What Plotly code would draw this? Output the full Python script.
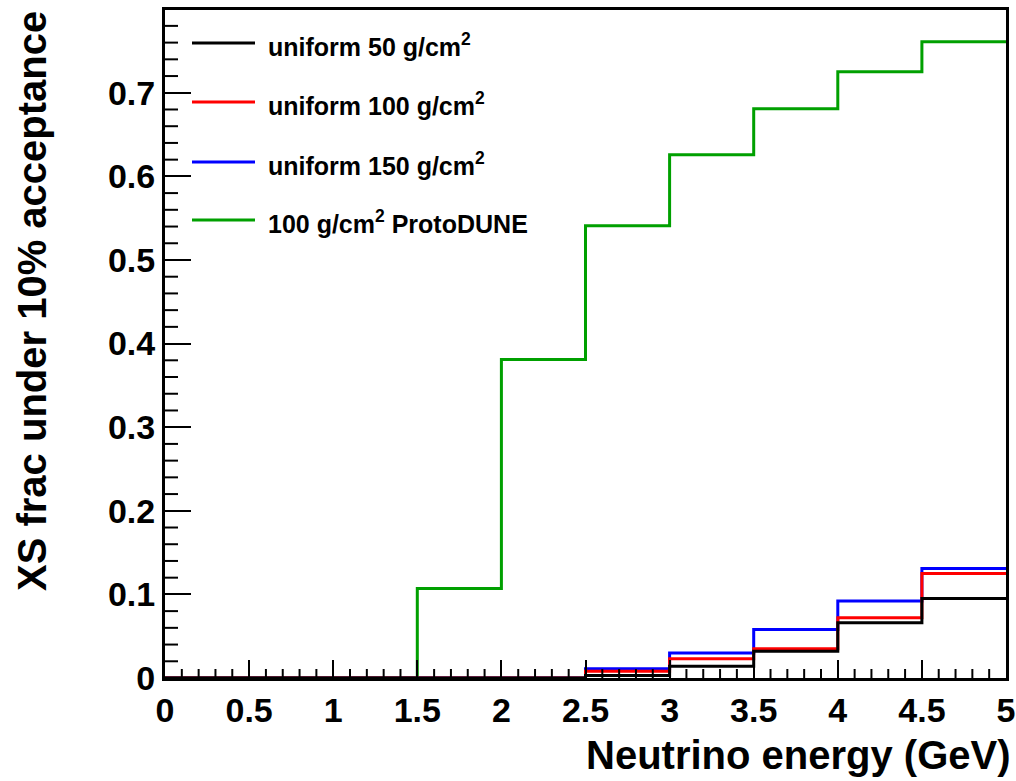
import plotly.graph_objects as go

bin_edges = [0, 0.5, 1, 1.5, 2, 2.5, 3, 3.5, 4, 4.5, 5]
uniform50 = [0, 0, 0, 0, 0, 0.003, 0.014, 0.032, 0.066, 0.095]
uniform100 = [0, 0, 0, 0, 0, 0.008, 0.023, 0.035, 0.072, 0.125]
uniform150 = [0, 0, 0, 0, 0, 0.011, 0.030, 0.058, 0.092, 0.131]
protodune = [0, 0, 0, 0.107, 0.381, 0.541, 0.626, 0.681, 0.725, 0.761]

x_tickvals = [0, 0.5, 1, 1.5, 2, 2.5, 3, 3.5, 4, 4.5, 5]
x_ticktext = ["0", "0.5", "1", "1.5", "2", "2.5", "3", "3.5", "4", "4.5", "5"]
y_tickvals = [0, 0.1, 0.2, 0.3, 0.4, 0.5, 0.6, 0.7]
y_ticktext = ["0", "0.1", "0.2", "0.3", "0.4", "0.5", "0.6", "0.7"]
x_minor_per_major = 5
y_minor_per_major = 5

X_RANGE = [0, 5]
Y_RANGE = [0, 0.799]

series = [
    ("100 g/cm<sup>2</sup> ProtoDUNE", protodune, "#00a000"),
    ("uniform 150 g/cm<sup>2</sup>", uniform150, "#0000ff"),
    ("uniform 100 g/cm<sup>2</sup>", uniform100, "#ff0000"),
    ("uniform 50 g/cm<sup>2</sup>", uniform50, "#000000"),
]
legend_order = [3, 2, 1, 0]

W, H = 1016, 781
ML, MR, MT, MB = 165, 10, 10, 103
FONT = "Liberation Sans, Arial, Helvetica, sans-serif"

fig = go.Figure()
for name, vals, col in series:
    fig.add_trace(go.Scatter(
        x=bin_edges, y=vals + [vals[-1]], mode="lines",
        line=dict(shape="hv", color=col, width=3),
        name=name, showlegend=False, hoverinfo="skip"))

pw = W - ML - MR
ph = H - MT - MB

def px2paper_x(px):
    return (px - ML) / pw

def px2paper_y(py):
    return (H - MB - py) / ph

shapes = []
annotations = []

# minor ticks (inside), placed between the major tick values
X_MINOR_LEN, Y_MINOR_LEN = 9, 13
for a, b in zip(x_tickvals[:-1], x_tickvals[1:]):
    for k in range(1, x_minor_per_major):
        v = a + (b - a) * k / x_minor_per_major
        shapes.append(dict(type="line", xref="x", yref="paper", x0=v, x1=v,
                           y0=0, y1=X_MINOR_LEN / ph, line=dict(color="black", width=2)))
y_major_step = y_tickvals[1] - y_tickvals[0]
y_minor_vals = []
cur = 0.0
idx_m = 0
while True:
    v = idx_m * y_major_step / y_minor_per_major
    if v > Y_RANGE[1]:
        break
    if idx_m % y_minor_per_major != 0:
        y_minor_vals.append(v)
    idx_m += 1
for v in y_minor_vals:
    shapes.append(dict(type="line", xref="paper", yref="y", x0=0, x1=Y_MINOR_LEN / pw,
                       y0=v, y1=v, line=dict(color="black", width=2)))

leg_y = [43, 102, 162, 220]
for i, idx in enumerate(legend_order):
    name, vals, col = series[idx]
    y = px2paper_y(leg_y[i])
    shapes.append(dict(type="line", xref="paper", yref="paper",
                       x0=px2paper_x(192), x1=px2paper_x(255), y0=y, y1=y,
                       line=dict(color=col, width=3)))
    annotations.append(dict(xref="paper", yref="paper", x=px2paper_x(266), y=px2paper_y(leg_y[i] + 2),
                            xanchor="left", yanchor="middle", showarrow=False,
                            text="<b>%s</b>" % name,
                            font=dict(family=FONT, size=25, color="black")))

annotations.append(dict(xref="paper", yref="paper", x=px2paper_x(1013), y=px2paper_y(755),
                        xanchor="right", yanchor="middle", showarrow=False,
                        text="<b>Neutrino energy (GeV)</b>",
                        font=dict(family=FONT, size=40, color="black")))
annotations.append(dict(xref="paper", yref="paper", x=px2paper_x(32), y=px2paper_y(301),
                        xanchor="center", yanchor="middle", showarrow=False, textangle=-90,
                        text="<b>XS frac under 10% acceptance</b>",
                        font=dict(family=FONT, size=40, color="black")))

tickfont = dict(family=FONT, size=34, color="black", weight="bold")

fig.update_layout(
    width=W, height=H,
    margin=dict(l=ML, r=MR, t=MT, b=MB),
    paper_bgcolor="white", plot_bgcolor="white",
    showlegend=False,
    shapes=shapes, annotations=annotations,
    font=dict(family=FONT, color="black"),
    xaxis=dict(range=X_RANGE, showgrid=False, zeroline=False, automargin=False,
               showline=True, linecolor="black", linewidth=3, mirror=True,
               ticks="inside", ticklen=18, tickwidth=2, tickcolor="black",
               tickmode="array", tickvals=x_tickvals, ticktext=x_ticktext, tickangle=0,
               tickfont=tickfont),
    yaxis=dict(range=Y_RANGE, showgrid=False, zeroline=False, automargin=False,
               showline=True, linecolor="black", linewidth=3, mirror=True,
               ticks="inside", ticklen=26, tickwidth=2, tickcolor="black",
               tickmode="array", tickvals=y_tickvals, ticktext=y_ticktext,
               tickfont=tickfont),
)

fig.write_html("out.html")
